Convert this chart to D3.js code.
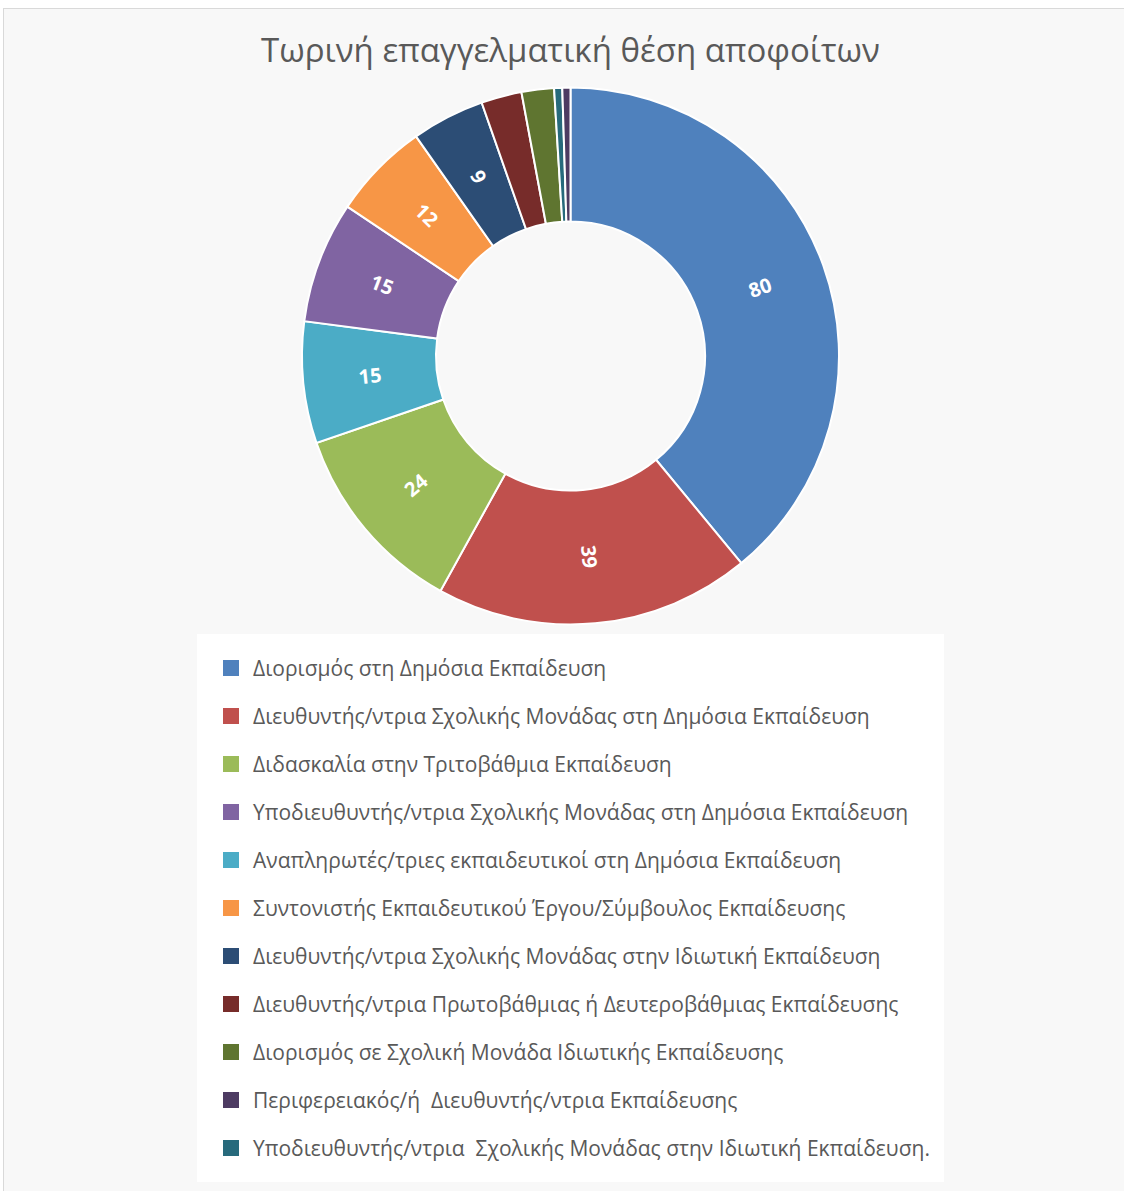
<!DOCTYPE html>
<html>
<head>
<meta charset="utf-8">
<script src="https://d3js.org/d3.v7.min.js"></script>
<style>
  body { margin: 0; background: #fff; }
  svg { font-family: "Open Sans", sans-serif; }
  .legend text { white-space: pre; }
</style>
</head>
<body>
<script>

  // legend order
  var categories = [
    "Διορισμός στη Δημόσια Εκπαίδευση",
    "Διευθυντής/ντρια Σχολικής Μονάδας στη Δημόσια Εκπαίδευση",
    "Διδασκαλία στην Τριτοβάθμια Εκπαίδευση",
    "Υποδιευθυντής/ντρια Σχολικής Μονάδας στη Δημόσια Εκπαίδευση",
    "Αναπληρωτές/τριες εκπαιδευτικοί στη Δημόσια Εκπαίδευση",
    "Συντονιστής Εκπαιδευτικού Έργου/Σύμβουλος Εκπαίδευσης",
    "Διευθυντής/ντρια Σχολικής Μονάδας στην Ιδιωτική Εκπαίδευση",
    "Διευθυντής/ντρια Πρωτοβάθμιας ή Δευτεροβάθμιας Εκπαίδευσης",
    "Διορισμός σε Σχολική Μονάδα Ιδιωτικής Εκπαίδευσης",
    "Περιφερειακός/ή  Διευθυντής/ντρια Εκπαίδευσης",
    "Υποδιευθυντής/ντρια  Σχολικής Μονάδας στην Ιδιωτική Εκπαίδευση."
  ];
  var values = [80, 39, 24, 15, 15, 12, 9, 5, 4, 1, 1];
  var colors = ["#4f81bd", "#c0504d", "#9bbb59", "#8064a2", "#4bacc6", "#f79646",
                "#2c4d75", "#772c2a", "#5f7530", "#4d3b62", "#276a7c"];
  // order in which the slices go round the ring
  var sliceOrder = [0, 1, 2, 4, 3, 5, 6, 7, 8, 10, 9];
  var title = "Τωρινή επαγγελματική θέση αποφοίτων";

  var W = 1124, H = 1191;
  var cx = 570.5, cy = 356, outerR = 268.5, innerR = 134.5;

  var svg = d3.select("body").append("svg")
      .attr("width", W)
      .attr("height", H);

  // chart area
  svg.append("rect")
      .attr("x", 3.5).attr("y", 8.5)
      .attr("width", W + 10).attr("height", H + 10)
      .attr("fill", "#f8f8f8")
      .attr("stroke", "#d9d9d9");

  svg.append("text")
      .attr("x", cx)
      .attr("y", 62)
      .attr("text-anchor", "middle")
      .attr("font-size", "33px")
      .attr("fill", "#595959")
      .text(title);

  var slices = sliceOrder.map(function(i) { return {i: i, v: values[i]}; });

  var pie = d3.pie().sort(null).value(function(d) { return d.v; });
  var arc = d3.arc().innerRadius(innerR).outerRadius(outerR);

  var g = svg.append("g")
      .attr("transform", "translate(" + cx + "," + cy + ")");

  var arcs = pie(slices);

  g.selectAll("path")
      .data(arcs)
    .enter().append("path")
      .attr("d", arc)
      .attr("fill", function(d) { return colors[d.data.i]; })
      .attr("stroke", "#fff")
      .attr("stroke-width", 2);

  // rotated value labels (only for larger slices)
  g.selectAll(".lbl")
      .data(arcs.filter(function(d) { return d.data.v >= 9; }))
    .enter().append("text")
      .attr("class", "lbl")
      .attr("transform", function(d) {
        var c = arc.centroid(d);
        var mid = (d.startAngle + d.endAngle) / 2 * 180 / Math.PI;
        var rot = mid - 90;
        if (rot > 90) rot -= 180;
        if (rot < -90) rot += 180;
        return "translate(" + c[0] + "," + c[1] + ") rotate(" + rot + ")";
      })
      .attr("text-anchor", "middle")
      .attr("dy", "0.35em")
      .attr("font-size", "20px")
      .attr("font-weight", "bold")
      .attr("fill", "#fff")
      .text(function(d) { return d.data.v; });

  // legend
  var legend = svg.append("g").attr("class", "legend");

  legend.append("rect")
      .attr("x", 197).attr("y", 634)
      .attr("width", 747).attr("height", 548)
      .attr("fill", "#fff");

  var rowH = 48;
  var item = legend.selectAll(".item")
      .data(categories)
    .enter().append("g")
      .attr("class", "item")
      .attr("transform", function(d, i) { return "translate(223," + (660 + i * rowH) + ")"; });

  item.append("rect")
      .attr("width", 16).attr("height", 16)
      .attr("fill", function(d, i) { return colors[i]; });

  item.append("text")
      .attr("x", 30)
      .attr("y", 9)
      .attr("dy", "0.35em")
      .attr("font-size", "21px")
      .attr("fill", "#595959")
      .text(function(d) { return d; });

</script>
</body>
</html>
